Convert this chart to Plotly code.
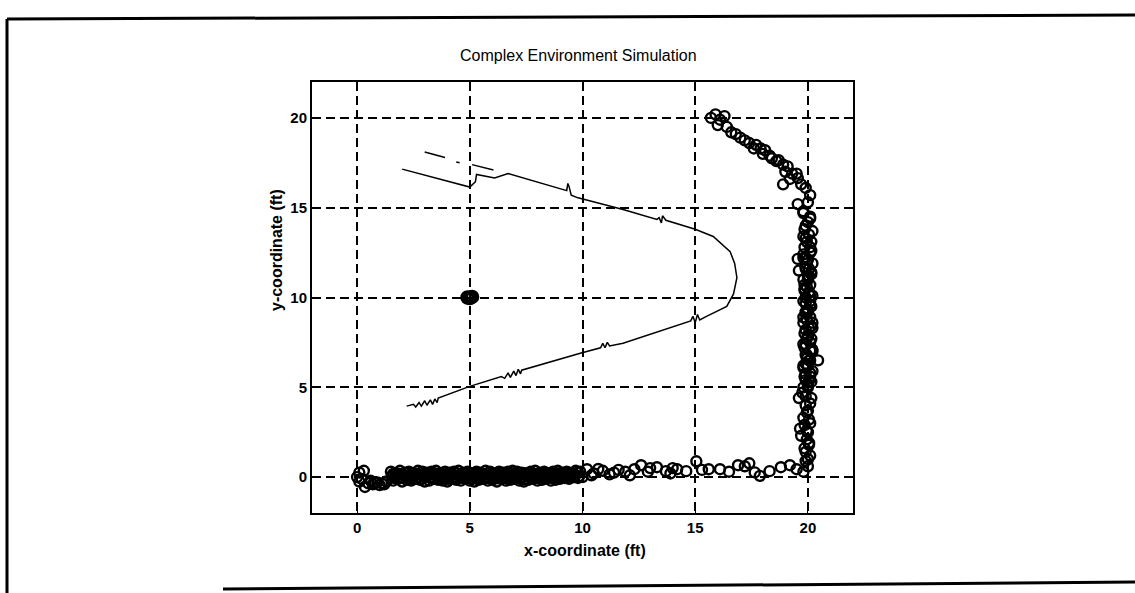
import plotly.graph_objects as go

# path of the robot (thin line), start bottom-left, round the bend, end top-left
path_x = [2.2, 2.5, 2.6, 2.75, 2.85, 3.0, 3.1, 3.25, 3.35, 3.45, 3.55, 3.6,
          5.0, 6.4, 6.55, 6.7, 6.8, 6.95, 7.05, 7.15, 7.25, 7.3,
          9.9, 10.8, 10.9, 11.0, 11.1, 11.2, 11.8,
          14.8, 14.9, 15.0, 15.1, 15.2, 15.5, 16.0, 16.4, 16.7, 16.85, 16.75,
          16.55, 15.8, 15.0, 13.7, 13.55, 13.5, 13.4, 13.3, 11.8,
          9.8, 9.5, 9.4, 9.35, 9.3, 7.0, 6.7, 6.1, 5.3, 5.25, 5.1, 5.0, 2.0]
path_y = [3.95, 4.05, 3.9, 4.15, 3.95, 4.25, 4.0, 4.3, 4.05, 4.35, 4.15, 4.4,
          5.05, 5.6, 5.5, 5.8, 5.55, 5.9, 5.65, 6.0, 5.75, 5.95,
          6.9, 7.2, 7.45, 7.2, 7.5, 7.3, 7.45,
          8.7, 8.95, 8.6, 9.05, 8.75, 8.95, 9.25, 9.5, 10.2, 11.1, 11.9,
          12.55, 13.4, 13.8, 14.3, 14.55, 14.15, 14.45, 14.35, 14.9,
          15.55, 15.7, 16.2, 16.35, 15.95, 16.8, 16.9, 16.65, 16.85, 16.45, 16.25, 16.15, 17.15]

# broken segments above the path
seg_x = [3.0, 3.9, None, 4.4, 4.55, None, 5.1, 6.05]
seg_y = [18.1, 17.8, None, 17.55, 17.5, None, 17.4, 17.1]

# target marker
target_x = [4.9, 5.0, 5.1]
target_y = [10.0, 9.97, 10.03]

# measured positions (open circles): start blob, dense floor band
start_x = [0.0, 0.1, 0.2, 0.3, 0.1, 0.35, 0.5, 0.7, 0.9, 1.1, 1.3, 0.6, 1.0, 0.8, 1.2]
start_y = [0.0, 0.25, -0.1, 0.35, -0.25, -0.55, -0.35, -0.4, -0.3, -0.35, -0.25, -0.2, -0.45, -0.3, -0.4]

band_top_x = [1.5, 1.7, 1.9, 2.1, 2.3, 2.5, 2.7, 2.9, 3.1, 3.3, 3.5, 3.7, 3.9, 4.1, 4.3,
              4.5, 4.7, 4.9, 5.1, 5.3, 5.5, 5.7, 5.9, 6.1, 6.3, 6.5, 6.7, 6.9, 7.1, 7.3,
              7.5, 7.7, 7.9, 8.1, 8.3, 8.5, 8.7, 8.9, 9.1, 9.3, 9.5, 9.7, 9.9]
band_top_y = [0.3, 0.2, 0.35, 0.25, 0.3, 0.2, 0.35, 0.3, 0.25, 0.3, 0.35, 0.2, 0.3, 0.25, 0.3,
              0.35, 0.25, 0.3, 0.2, 0.3, 0.25, 0.35, 0.3, 0.2, 0.3, 0.25, 0.3, 0.35, 0.3, 0.25,
              0.2, 0.3, 0.35, 0.25, 0.3, 0.2, 0.3, 0.35, 0.25, 0.3, 0.2, 0.35, 0.3]
band_a_x = [1.6, 1.8, 2.0, 2.2, 2.4, 2.6, 2.8, 3.0, 3.2, 3.4, 3.6, 3.8, 4.0, 4.2,
            4.4, 4.6, 4.8, 5.0, 5.2, 5.4, 5.6, 5.8, 6.0, 6.2, 6.4, 6.6, 6.8, 7.0,
            7.2, 7.4, 7.6, 7.8, 8.0, 8.2, 8.4, 8.6, 8.8, 9.0, 9.2, 9.4, 9.6, 9.8]
band_a_y = [0.18, 0.2, 0.15, 0.22, 0.17, 0.2, 0.15, 0.18, 0.22, 0.16, 0.2, 0.18, 0.15, 0.2,
            0.22, 0.17, 0.2, 0.15, 0.18, 0.21, 0.16, 0.2, 0.18, 0.15, 0.22, 0.18, 0.2, 0.16,
            0.19, 0.22, 0.17, 0.2, 0.15, 0.18, 0.22, 0.2, 0.17, 0.22, 0.2, 0.25, 0.22, 0.25]
band_mid_x = [1.55, 1.75, 1.95, 2.15, 2.35, 2.55, 2.75, 2.95, 3.15, 3.35, 3.55, 3.75, 3.95, 4.15, 4.35,
              4.55, 4.75, 4.95, 5.15, 5.35, 5.55, 5.75, 5.95, 6.15, 6.35, 6.55, 6.75, 6.95, 7.15, 7.35,
              7.55, 7.75, 7.95, 8.15, 8.35, 8.55, 8.75, 8.95, 9.15, 9.35, 9.55]
band_mid_y = [0.05, 0.1, 0.0, 0.08, 0.05, 0.12, 0.02, 0.07, 0.1, 0.0, 0.06, 0.1, 0.04, 0.08, 0.0,
              0.1, 0.05, 0.08, 0.02, 0.1, 0.06, 0.0, 0.08, 0.05, 0.1, 0.03, 0.07, 0.1, 0.05, 0.0,
              0.08, 0.12, 0.05, 0.1, 0.07, 0.12, 0.1, 0.15, 0.12, 0.18, 0.15]
band_b_x = [1.65, 1.85, 2.05, 2.25, 2.45, 2.65, 2.85, 3.05, 3.25, 3.45, 3.65, 3.85, 4.05, 4.25,
            4.45, 4.65, 4.85, 5.05, 5.25, 5.45, 5.65, 5.85, 6.05, 6.25, 6.45, 6.65, 6.85, 7.05,
            7.25, 7.45, 7.65, 7.85, 8.05, 8.25, 8.45, 8.65, 8.85, 9.05, 9.25, 9.45, 9.65, 9.85]
band_b_y = [-0.05, -0.08, -0.02, -0.06, -0.1, -0.04, -0.07, -0.02, -0.05, -0.09, -0.03, -0.06, -0.1, -0.04,
            -0.07, -0.02, -0.05, -0.08, -0.03, -0.06, -0.1, -0.05, -0.02, -0.07, -0.04, -0.08, -0.03, -0.06,
            -0.05, -0.1, -0.02, -0.06, -0.04, -0.07, -0.03, -0.05, -0.02, 0.0, -0.03, 0.02, 0.0, 0.05]
band_low_x = [1.6, 1.8, 2.0, 2.2, 2.4, 2.6, 2.8, 3.0, 3.2, 3.4, 3.6, 3.8, 4.0, 4.2, 4.4,
              4.6, 4.8, 5.0, 5.2, 5.4, 5.6, 5.8, 6.0, 6.2, 6.4, 6.6, 6.8, 7.0, 7.2, 7.4,
              7.6, 7.8, 8.0, 8.2, 8.4, 8.6, 8.8, 9.0, 9.2, 9.4, 9.6, 9.8, 10.0]
band_low_y = [-0.2, -0.1, -0.25, -0.15, -0.2, -0.1, -0.15, -0.25, -0.2, -0.1, -0.15, -0.2, -0.25, -0.1, -0.15,
              -0.2, -0.1, -0.2, -0.25, -0.15, -0.1, -0.2, -0.15, -0.25, -0.1, -0.2, -0.15, -0.1, -0.2, -0.25,
              -0.15, -0.1, -0.2, -0.15, -0.1, -0.2, -0.15, -0.1, -0.05, -0.1, 0.0, -0.05, 0.0]

# sparse floor, x > 10
floor_x = [10.2, 10.5, 10.9, 11.2, 11.6, 11.9, 12.3, 12.6, 12.9, 13.3, 13.7, 14.0, 14.2, 14.6,
           15.05, 15.3, 15.6, 16.1, 16.5, 16.9, 17.2, 17.4, 17.64, 17.87, 18.3, 18.8, 19.2, 19.5,
           10.4, 10.7, 11.4, 12.1, 13.0, 13.9]
floor_y = [0.44, 0.2, 0.35, 0.15, 0.4, 0.3, 0.44, 0.66, 0.3, 0.55, 0.33, 0.5, 0.44, 0.33,
           0.88, 0.4, 0.44, 0.44, 0.3, 0.66, 0.6, 0.77, 0.26, 0.07, 0.33, 0.55, 0.66, 0.44,
           0.1, 0.45, 0.25, 0.1, 0.5, 0.2]

# right wall, going up
wall_x = [19.8, 20.0, 19.9, 20.1, 19.85, 20.05, 19.7, 19.95, 20.1, 19.8, 20.0, 19.9, 20.15, 19.75,
          20.0, 19.9, 20.1, 19.8, 20.05, 19.95, 19.85, 20.1, 20.0, 19.9, 20.2, 19.8, 20.0, 20.1,
          19.9, 20.05, 19.85, 20.0, 20.15, 19.9, 20.0, 19.8, 20.1, 19.95, 20.05, 19.85,
          20.1, 19.9, 20.2, 19.95, 20.15, 19.9, 20.1, 19.85, 20.05, 19.95, 20.15, 19.9,
          20.45, 19.55, 19.6, 19.6, 19.65, 19.55]
wall_y = [0.3, 0.6, 0.9, 1.2, 1.6, 1.9, 2.3, 2.6, 3.0, 3.3, 3.7, 4.0, 4.4, 4.7,
          5.1, 5.4, 5.8, 6.1, 6.5, 6.8, 7.2, 7.5, 7.9, 8.2, 8.6, 8.9, 9.3, 9.6,
          10.0, 10.3, 10.7, 11.0, 11.4, 11.7, 12.1, 12.4, 12.8, 13.1, 13.5, 13.8,
          5.6, 6.3, 7.0, 7.7, 8.4, 9.1, 9.8, 10.5, 11.2, 11.9, 12.6, 13.3,
          6.5, 12.15, 11.5, 4.4, 2.7, 15.2]
wall2_x = [20.0, 19.9, 20.05, 19.95, 20.0, 19.85, 20.05, 19.95, 20.1, 19.9, 20.0, 20.05, 19.9, 20.0,
           19.95, 20.1, 19.9, 20.0, 20.05, 19.95, 20.0, 19.9, 20.1, 19.95, 20.0, 20.05, 19.9, 20.0]
wall2_y = [1.0, 1.4, 1.8, 2.1, 2.5, 2.9, 3.2, 3.6, 4.1, 4.5, 5.0, 5.35, 5.75, 6.2,
           6.6, 7.05, 7.4, 7.85, 8.3, 8.75, 9.2, 9.65, 10.1, 10.6, 11.1, 11.6, 12.2, 14.2]
wall3_x = [19.8, 20.15, 19.85, 20.2, 19.8, 20.1, 19.9, 20.2, 19.8, 20.15, 19.85, 20.2, 19.8, 20.1,
           19.9, 20.15, 19.8, 20.2, 19.85, 20.1, 19.8, 20.15, 19.9, 20.2, 19.8, 20.1, 19.85, 20.15,
           19.8, 20.2, 19.9, 20.1, 19.8]
wall3_y = [5.0, 5.3, 5.6, 5.9, 6.2, 6.5, 6.8, 7.1, 7.4, 7.7, 8.0, 8.3, 8.6, 8.9,
           9.2, 9.5, 9.8, 10.1, 10.4, 10.7, 11.0, 11.3, 11.6, 11.9, 12.2, 12.5, 12.8, 13.1,
           13.4, 13.7, 14.0, 14.4, 14.7]

# top-right diagonal
diag_x = [15.7, 15.9, 16.1, 16.3, 16.0, 16.4, 16.6, 16.8, 17.0, 17.2, 17.4, 17.7, 17.9, 18.1,
          18.3, 18.4, 18.6, 18.7, 18.9, 19.1, 19.0, 19.3, 19.55, 19.2, 18.9, 19.7, 19.9, 20.1,
          20.0, 19.8, 20.1, 19.5, 18.0, 17.6]
diag_y = [20.0, 20.2, 19.9, 20.1, 19.6, 19.5, 19.2, 19.1, 18.9, 18.75, 18.6, 18.5, 18.3, 18.2,
          17.9, 17.75, 17.6, 17.65, 17.4, 17.3, 17.0, 16.9, 16.65, 16.6, 16.3, 16.3, 16.1, 15.7,
          15.3, 14.8, 14.5, 16.9, 18.0, 18.3]

meas_x = (start_x + band_top_x + band_a_x + band_mid_x + band_b_x + band_low_x
          + floor_x + wall_x + wall2_x + wall3_x + diag_x)
meas_y = (start_y + band_top_y + band_a_y + band_mid_y + band_b_y + band_low_y
          + floor_y + wall_y + wall2_y + wall3_y + diag_y)

ticks = [0, 5, 10, 15, 20]

fig = go.Figure()
fig.add_trace(go.Scatter(x=meas_x, y=meas_y, mode='markers',
                         marker=dict(symbol='circle-open', size=10, color='black',
                                     line=dict(width=2.4, color='black'))))
fig.add_trace(go.Scatter(x=path_x, y=path_y, mode='lines',
                         line=dict(color='black', width=1.5)))
fig.add_trace(go.Scatter(x=seg_x, y=seg_y, mode='lines',
                         line=dict(color='black', width=1.5)))
fig.add_trace(go.Scatter(x=target_x, y=target_y, mode='markers',
                         marker=dict(symbol='circle-open', size=11, color='black',
                                     line=dict(width=3.5, color='black'))))

# plot area in pixels: x 312..853, y 82..513
L, R, T, B = 312, 853, 82, 513
W, H = R - L, B - T
def px(x):
    return (x - L) / W
def py(y):
    return (B - y) / H

axis_style = dict(range=[-2, 22], tickvals=ticks, showgrid=True, gridcolor='black',
                  griddash='9px,5px', gridwidth=1.5, zeroline=False,
                  showline=True, linecolor='black', linewidth=2, mirror=True,
                  ticks='inside', ticklen=5, tickcolor='black',
                  tickfont=dict(family='Liberation Sans', size=15, color='black', weight='bold'))

fig.update_xaxes(**axis_style)
fig.update_yaxes(**axis_style)

lbl_font = dict(family='Liberation Sans', size=16, color='black', weight='bold')
fig.update_layout(
    width=1135, height=593,
    margin=dict(l=L, r=1135 - R, t=T, b=593 - B),
    plot_bgcolor='white', paper_bgcolor='white',
    showlegend=False,
    annotations=[
        dict(text='Complex Environment Simulation', xref='paper', yref='paper',
             x=px(578), y=py(56), showarrow=False, xanchor='center', yanchor='middle',
             font=dict(family='Liberation Sans', size=16, color='black')),
        dict(text='x-coordinate (ft)', xref='paper', yref='paper',
             x=px(585), y=py(550), showarrow=False, xanchor='center', yanchor='middle',
             font=lbl_font),
        dict(text='y-coordinate (ft)', xref='paper', yref='paper', textangle=-90,
             x=px(276), y=py(250), showarrow=False, xanchor='center', yanchor='middle',
             font=lbl_font),
    ],
    shapes=[
        dict(type='line', xref='paper', yref='paper', x0=px(7), y0=py(19), x1=px(7), y1=py(600),
             line=dict(color='black', width=3)),
        dict(type='line', xref='paper', yref='paper', x0=px(7), y0=py(19), x1=px(1140), y1=py(15),
             line=dict(color='black', width=3)),
        dict(type='line', xref='paper', yref='paper', x0=px(223), y0=py(589), x1=px(1140), y1=py(582),
             line=dict(color='black', width=3)),
    ],
)

# drop the browser's default 8px page margin so the figure sits at 0,0
fig.write_html("out.html", config={'displayModeBar': False},
               post_script="document.body.style.margin='0px';")
